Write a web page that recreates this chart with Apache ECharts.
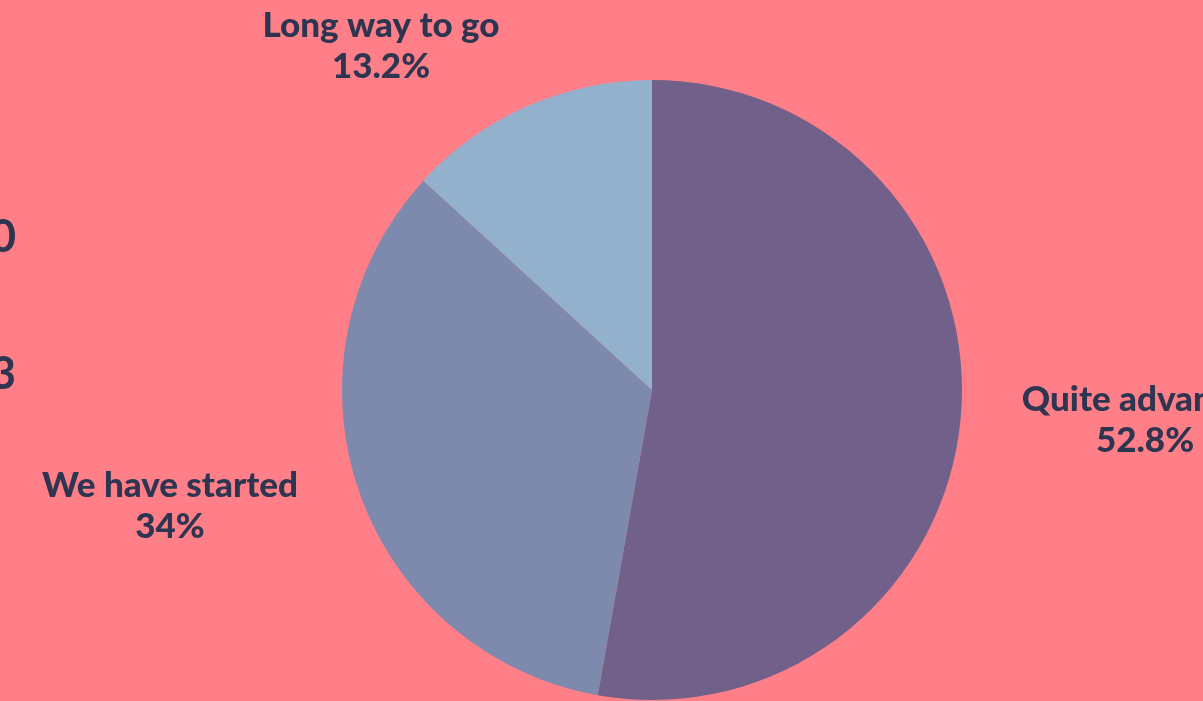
<!DOCTYPE html>
<html><head><meta charset="utf-8">
<script src="https://cdn.jsdelivr.net/npm/echarts@6/dist/echarts.min.js"></script>
<style>html,body{margin:0;padding:0;background:#FE7F87;}#c{width:1203px;height:701px;}</style>
</head><body><div id="c"></div>
<script>
const categories = ['Quite advanced', 'We have started', 'Long way to go'];
const values = [52.8, 34, 13.2];
const colors = ['#71618A', '#7E89AE', '#93B0CD'];
const labelPos = [[1145, 420], [170, 506], [381, 46]];
const textColor = '#2D3550';
const font = 'Lato';

const chart = echarts.init(document.getElementById('c'));
chart.setOption({
  backgroundColor: '#FE7F87',
  animation: false,
  graphic: [
    {type: 'text', right: 1187, top: 215, style: {text: '2020', fontSize: 45, fontWeight: 'bold', fontFamily: font, fill: textColor}},
    {type: 'text', right: 1187, top: 352, style: {text: '2023', fontSize: 45, fontWeight: 'bold', fontFamily: font, fill: textColor}}
  ],
  series: [{
    type: 'pie',
    center: [652, 390],
    radius: 310,
    startAngle: 90,
    clockwise: true,
    data: categories.map((c, i) => ({name: c, value: values[i], itemStyle: {color: colors[i]}})),
    label: {
      show: true,
      position: 'outside',
      formatter: p => p.name + '\n' + p.value + '%',
      fontFamily: font,
      fontWeight: 900,
      fontSize: 35,
      lineHeight: 41,
      color: textColor,
      align: 'center',
      overflow: 'none',
      width: 400
    },
    labelLine: {show: false},
    labelLayout: function (p) {
      const pos = labelPos[p.dataIndex];
      return {x: pos[0], y: pos[1], align: 'center', verticalAlign: 'middle'};
    },
    emphasis: {disabled: true}
  }]
});
</script></body></html>
